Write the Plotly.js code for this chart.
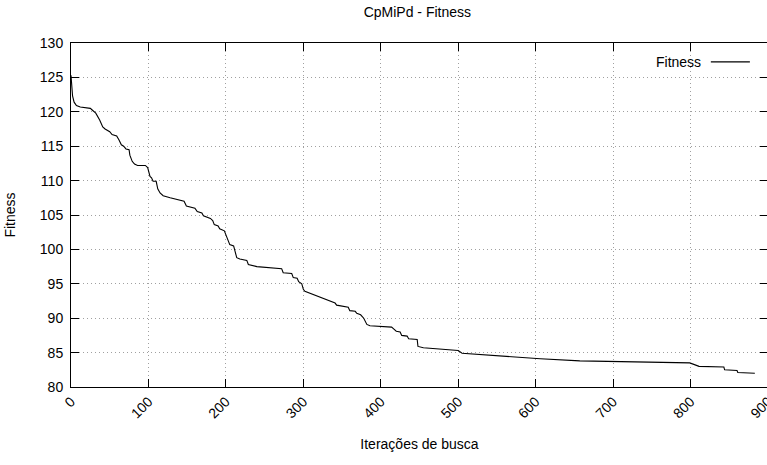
<!DOCTYPE html>
<html>
<head>
<meta charset="utf-8">
<script src="https://cdn.plot.ly/plotly-3.0.1.min.js"></script>
<style>
html,body{margin:0;padding:0;overflow:hidden;background:#fff;}
#chart{width:770px;height:465px;}
</style>
</head>
<body>
<div id="chart"></div>
<script>
const iterations = [0,1,2,4,7,12,18,25,27,32,37,41,44,50,53,59,62,65,68,71,75,76,79,82,86,96,99,100,102,104,106,110,112,115,119,128,137,141,146,149,160,163,169,171,180,183,185,190,192,198,200,203,205,210,212,214,218,227,229,240,272,274,285,287,292,294,298,300,302,341,343,358,360,367,369,374,378,380,382,386,399,414,417,420,425,427,434,436,447,448,455,500,505,554,606,657,799,811,843,844,860,861,883];
const fitness = [125.3,123.5,122.3,121.4,120.9,120.7,120.6,120.5,120.3,119.8,118.8,117.8,117.5,117.1,116.7,116.5,115.9,115.2,115.0,114.6,114.5,113.7,112.8,112.4,112.2,112.2,111.9,111.3,110.6,110.4,109.9,109.9,108.8,108.2,107.8,107.5,107.3,107.1,107.0,106.3,106.0,105.5,105.3,104.9,104.5,104.2,103.6,103.4,103.0,102.7,102.1,101.4,100.7,100.5,99.7,98.8,98.6,98.4,97.8,97.5,97.2,96.6,96.5,95.9,95.8,95.3,95.0,94.2,93.9,92.2,91.9,91.6,91.1,91.0,90.7,90.5,90.0,89.6,89.1,88.9,88.8,88.7,88.4,88.1,88.0,87.5,87.4,87.0,86.9,85.9,85.7,85.3,84.9,84.5,84.1,83.8,83.5,83.0,82.9,82.5,82.4,82.1,82.0];
const xTicks = [0,100,200,300,400,500,600,700,800,900];
const yTicks = [80,85,90,95,100,105,110,115,120,125,130];
const seriesName = "Fitness";
const chartTitle = "CpMiPd - Fitness";
const xTitle = "Iterações de busca";
const yTitle = "Fitness";

const font = {family: "Liberation Sans, Arial, sans-serif", size: 14, color: "#000"};
const axisCommon = {
  showline: true, linecolor: "#000", linewidth: 1, mirror: "ticks",
  ticks: "inside", ticklen: 8, tickcolor: "#000", tickwidth: 1,
  showgrid: true, gridcolor: "#a0a0a0", gridwidth: 1, griddash: "1px,3px",
  zeroline: false, tickfont: font, ticklabeloverflow: "allow"
};

const trace = {
  x: iterations, y: fitness, type: "scatter", mode: "lines",
  name: seriesName, line: {color: "#000", width: 1.1}, showlegend: false
};

const layout = {
  width: 770, height: 465,
  margin: {l: 71, r: 2, t: 43, b: 77.5},
  paper_bgcolor: "#fff", plot_bgcolor: "#fff",
  font: font,
  title: {text: chartTitle, font: font, x: 0.542, xanchor: "center", y: 0.975, yanchor: "middle"},
  xaxis: Object.assign({}, axisCommon, {
    range: [-0.001, 900.001], tickvals: xTicks, ticktext: xTicks.map(String), tickangle: -45,
    title: {text: xTitle, font: font, standoff: 18}
  }),
  yaxis: Object.assign({}, axisCommon, {
    range: [80, 130], tickvals: yTicks, ticktext: yTicks.map(String), ticklabelstandoff: 4,
    title: {text: yTitle, font: font, standoff: 20}
  }),
  annotations: [{
    xref: "paper", yref: "paper", x: 0.907, y: 0.945, xanchor: "right", yanchor: "middle",
    text: seriesName, showarrow: false, font: font
  }],
  shapes: [{
    type: "line", xref: "paper", yref: "paper", x0: 0.918, x1: 0.974, y0: 0.945, y1: 0.945,
    line: {color: "#000", width: 1.1}
  }]
};

Plotly.newPlot("chart", [trace], layout, {displayModeBar: false, staticPlot: true});
</script>
</body>
</html>
